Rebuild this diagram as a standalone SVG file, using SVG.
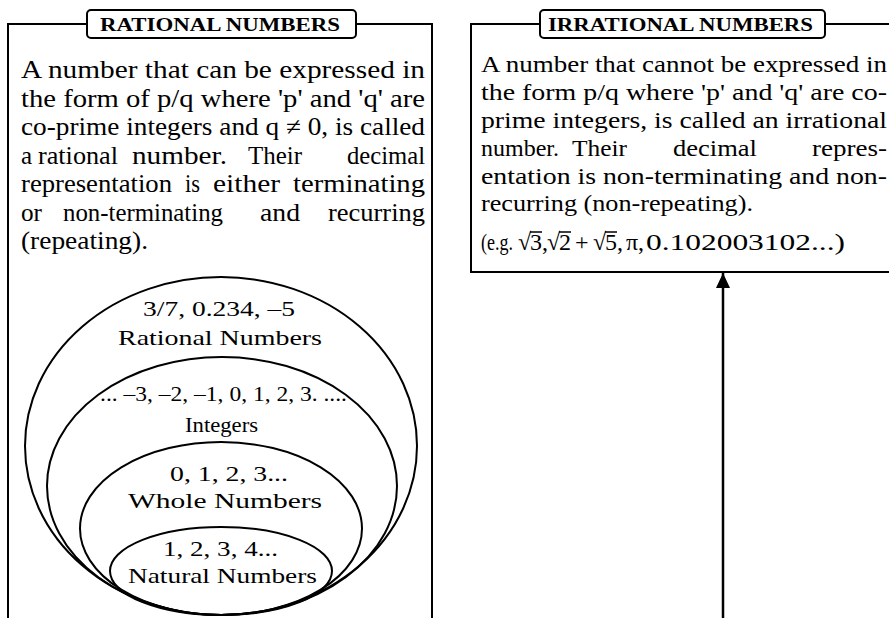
<svg xmlns="http://www.w3.org/2000/svg" width="889" height="618" viewBox="0 0 889 618">
<defs>
<style>
.bx{fill:none;stroke:#000;stroke-width:2}
.lb{fill:#fff;stroke:#000;stroke-width:2}
.el{fill:none;stroke:#000;stroke-width:2}
.t{font-family:"Liberation Serif","Times New Roman",serif;font-size:25px;fill:#000}
.r{font-family:"Liberation Serif","Times New Roman",serif;font-size:24px;fill:#000}
.s{font-family:"Liberation Serif","Times New Roman",serif;font-size:22px;fill:#000}
.h{font-family:"Liberation Serif","Times New Roman",serif;font-size:18px;font-weight:bold;fill:#000}
</style>
<marker id="ah" markerUnits="userSpaceOnUse" markerWidth="15" markerHeight="14" viewBox="0 0 15 14" refX="15" refY="7" orient="auto">
<path d="M0 0 L15 7 L0 14 Z" fill="#000"/>
</marker>
</defs>
<rect width="889" height="618" fill="#fff"/>

<g id="rational-box">
<rect class="bx" x="8" y="24" width="424" height="620"/>
<rect class="lb" x="87" y="10" width="269" height="28" rx="4"/>
<text class="h" x="100" y="31" textLength="240" lengthAdjust="spacingAndGlyphs">RATIONAL NUMBERS</text>
<text class="t" x="21" y="78" textLength="404" lengthAdjust="spacingAndGlyphs">A number that can be expressed in</text>
<text class="t" x="21" y="107" textLength="404" lengthAdjust="spacingAndGlyphs">the form of p/q where 'p' and 'q' are</text>
<text class="t" x="21" y="135" textLength="404" lengthAdjust="spacingAndGlyphs">co-prime integers and q ≠ 0, is called</text>
<text class="t" y="164"><tspan x="21">a</tspan><tspan x="38" textLength="80" lengthAdjust="spacingAndGlyphs">rational</tspan><tspan x="132" textLength="95" lengthAdjust="spacingAndGlyphs">number.</tspan><tspan x="248" textLength="54" lengthAdjust="spacingAndGlyphs">Their</tspan><tspan x="347" textLength="78" lengthAdjust="spacingAndGlyphs">decimal</tspan></text>
<text class="t" y="192"><tspan x="21" textLength="151" lengthAdjust="spacingAndGlyphs">representation</tspan><tspan x="185" textLength="15" lengthAdjust="spacingAndGlyphs">is</tspan><tspan x="213" textLength="67" lengthAdjust="spacingAndGlyphs">either</tspan><tspan x="293" textLength="132" lengthAdjust="spacingAndGlyphs">terminating</tspan></text>
<text class="t" y="221"><tspan x="21" textLength="21" lengthAdjust="spacingAndGlyphs">or</tspan><tspan x="63" textLength="160" lengthAdjust="spacingAndGlyphs">non-terminating</tspan><tspan x="260" textLength="40" lengthAdjust="spacingAndGlyphs">and</tspan><tspan x="328" textLength="97" lengthAdjust="spacingAndGlyphs">recurring</tspan></text>
<text class="t" x="21" y="249" textLength="127" lengthAdjust="spacingAndGlyphs">(repeating).</text>
</g>

<g id="set-rational">
<ellipse class="el" cx="221" cy="446" rx="196" ry="169"/>
<text class="s" x="143" y="316" textLength="152" lengthAdjust="spacingAndGlyphs">3/7, 0.234, –5</text>
<text class="s" x="118" y="345" textLength="204" lengthAdjust="spacingAndGlyphs">Rational Numbers</text>
</g>
<g id="set-integers">
<ellipse class="el" cx="222" cy="486" rx="175" ry="129"/>
<text class="s" x="100" y="401" textLength="247" lengthAdjust="spacingAndGlyphs">... –3, –2, –1, 0, 1, 2, 3. ....</text>
<text class="s" x="185" y="432" textLength="73" lengthAdjust="spacingAndGlyphs">Integers</text>
</g>
<g id="set-whole">
<ellipse class="el" cx="221" cy="528.5" rx="141" ry="86.5"/>
<text class="s" x="170" y="481" textLength="118" lengthAdjust="spacingAndGlyphs">0, 1, 2, 3...</text>
<text class="s" x="128" y="508" textLength="194" lengthAdjust="spacingAndGlyphs">Whole Numbers</text>
</g>
<g id="set-natural">
<ellipse class="el" cx="221" cy="571" rx="111" ry="44"/>
<text class="s" x="163" y="556" textLength="115" lengthAdjust="spacingAndGlyphs">1, 2, 3, 4...</text>
<text class="s" x="128" y="583" textLength="189" lengthAdjust="spacingAndGlyphs">Natural Numbers</text>
</g>

<g id="irrational-box">
<rect class="bx" x="471" y="24" width="430" height="248"/>
<rect class="lb" x="540" y="10" width="285" height="28" rx="4"/>
<text class="h" x="548" y="31" textLength="265" lengthAdjust="spacingAndGlyphs">IRRATIONAL NUMBERS</text>
<text class="r" x="481" y="72" textLength="406" lengthAdjust="spacingAndGlyphs">A number that cannot be expressed in</text>
<text class="r" x="481" y="100" textLength="406" lengthAdjust="spacingAndGlyphs">the form p/q where 'p' and 'q' are co-</text>
<text class="r" x="481" y="128" textLength="406" lengthAdjust="spacingAndGlyphs">prime integers, is called an irrational</text>
<text class="r" y="156"><tspan x="481" textLength="78" lengthAdjust="spacingAndGlyphs">number.</tspan><tspan x="572" textLength="55" lengthAdjust="spacingAndGlyphs">Their</tspan><tspan x="673" textLength="84" lengthAdjust="spacingAndGlyphs">decimal</tspan><tspan x="812" textLength="75" lengthAdjust="spacingAndGlyphs">repres-</tspan></text>
<text class="r" x="481" y="184" textLength="406" lengthAdjust="spacingAndGlyphs">entation is non-terminating and non-</text>
<text class="r" x="481" y="211" textLength="272" lengthAdjust="spacingAndGlyphs">recurring (non-repeating).</text>
<text class="r" y="250"><tspan x="481" textLength="32" lengthAdjust="spacingAndGlyphs">(e.g.</tspan><tspan x="518">√</tspan><tspan x="530">3,</tspan><tspan x="547">√</tspan><tspan x="559">2</tspan><tspan x="575">+</tspan><tspan x="593">√</tspan><tspan x="605">5,</tspan><tspan x="626">π,</tspan><tspan x="646" textLength="199" lengthAdjust="spacingAndGlyphs">0.102003102...)</tspan></text>
<path d="M530 232 H542 M559 232 H571 M605 232 H617" stroke="#000" stroke-width="1.5" fill="none"/>
</g>

<g id="connectors">
<line x1="723" y1="620" x2="723" y2="273" stroke="#000" stroke-width="2.5" marker-end="url(#ah)"/>
</g>
</svg>
